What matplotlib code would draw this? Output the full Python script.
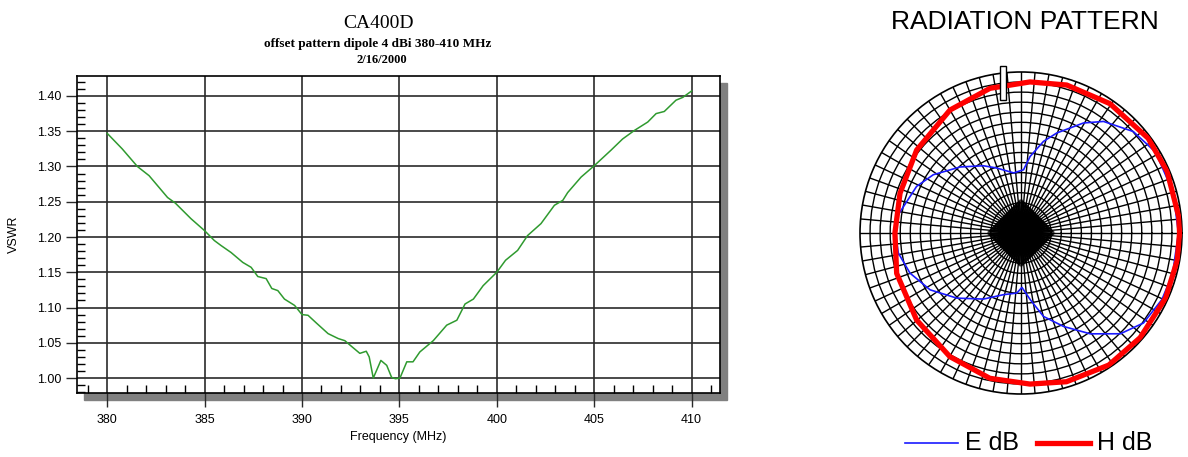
import numpy as np
import matplotlib.pyplot as plt
from matplotlib.lines import Line2D
from matplotlib.patches import Rectangle
from matplotlib.ticker import MultipleLocator

# VSWR sweep
freq = [380.0, 380.77, 381.55, 382.15, 383.1, 383.5, 384.3, 385.0, 385.5, 385.84,
        386.36, 386.96, 387.39, 387.73, 388.16, 388.45, 388.76, 389.1, 389.62, 390.0,
        390.31, 390.74, 391.34, 391.86, 392.2, 392.54, 392.97, 393.3, 393.45, 393.66,
        394.05, 394.35, 394.6, 394.8, 395.03, 395.38, 395.7, 396.05, 396.74, 397.43,
        397.95, 398.37, 398.8, 399.3, 400.0, 400.45, 401.07, 401.58, 402.27, 402.96,
        403.39, 403.64, 404.33, 405.0, 405.86, 406.46, 407.06, 407.75, 408.18, 408.6,
        409.2, 409.55, 410.0]
vswr = [1.347, 1.325, 1.300, 1.287, 1.256, 1.248, 1.226, 1.209, 1.195, 1.188,
        1.178, 1.164, 1.157, 1.144, 1.141, 1.127, 1.124, 1.112, 1.103, 1.090,
        1.089, 1.078, 1.063, 1.056, 1.053, 1.045, 1.035, 1.038, 1.030, 1.000,
        1.025, 1.018, 1.001, 0.999, 1.000, 1.023, 1.023, 1.037, 1.053, 1.075,
        1.082, 1.105, 1.112, 1.131, 1.150, 1.167, 1.181, 1.202, 1.219, 1.245,
        1.252, 1.263, 1.285, 1.301, 1.323, 1.339, 1.351, 1.363, 1.375, 1.378,
        1.394, 1.398, 1.407]

# radiation pattern (angle in degrees, normalised radius)
h_ang = [0, 5.9, 22.9, 36.7, 55.5, 72.8, 86.6, 102.1, 120, 141.5, 161.8, 180,
         198, 219.8, 240.1, 257.9, 273.4, 287, 303.6, 318.7, 335.8, 350, 360]
h_db = [0.985, 0.985, 0.985, 0.985, 0.975, 0.962, 0.94, 0.919, 0.882, 0.828, 0.791, 0.783,
        0.812, 0.844, 0.886, 0.923, 0.94, 0.966, 0.985, 0.985, 0.985, 0.985, 0.985]
e_ang = [0, 15, 31, 42.1, 53.5, 60.4, 70.3, 76.2, 83.2, 87.7, 97, 110.5, 119.3, 132.7,
         146.4, 155.9, 171.7, 180, 189.3, 199.9, 212, 225.4, 240.4, 254.2, 266, 271,
         277.9, 285.1, 294.5, 304.5, 314.6, 323.7, 334.7, 345, 360]
e_db = [0.978, 0.978, 0.975, 0.94, 0.862, 0.786, 0.66, 0.586, 0.479, 0.393, 0.376, 0.431,
        0.479, 0.558, 0.654, 0.71, 0.772, 0.78, 0.772, 0.733, 0.666, 0.568, 0.472, 0.398,
        0.374, 0.338, 0.418, 0.537, 0.638, 0.76, 0.879, 0.944, 0.968, 0.975, 0.978]

fig = plt.figure(figsize=(11.88, 4.57), dpi=100)
W, H = 1188.0, 457.0

# ---- VSWR chart ----
l, r, t, b = 77, 720, 76, 393
ax = fig.add_axes([l / W, 1 - b / H, (r - l) / W, (b - t) / H])
ax.set_zorder(2)
# drop shadow
fig.add_artist(Rectangle(((l + 7) / W, 1 - (b + 7) / H), (r - l) / W, (b - t) / H,
                         transform=fig.transFigure, color='#808080', zorder=1))

ax.plot(freq, vswr, color='#2f9a2f', lw=1.1)
ax.set_xlim(378.45, 411.46)
ax.set_ylim(0.9788, 1.4283)
ax.xaxis.set_major_locator(MultipleLocator(5))
ax.xaxis.set_minor_locator(MultipleLocator(1))
ax.yaxis.set_major_locator(MultipleLocator(0.05))
ax.yaxis.set_minor_locator(MultipleLocator(0.01))
ax.yaxis.set_major_formatter(plt.FormatStrFormatter('%.2f'))
ax.grid(True, which='major', color='#2a2a2a', lw=1.2)
ax.tick_params(which='major', direction='out', length=8, width=1, color='#2a2a2a',
               labelsize=9, labelfontfamily='Liberation Sans')
ax.tick_params(which='minor', direction='in', length=6, width=1)
ax.tick_params(axis='x', which='major', length=10, pad=5)
for s in ax.spines.values():
    s.set_linewidth(1.2)
ax.set_xlabel('Frequency (MHz)', fontsize=9, family='Liberation Sans', labelpad=4)
ax.set_ylabel('VSWR', fontsize=9, family='Liberation Sans', labelpad=12)

cx = 378 / W
fig.text(cx, 1 - 23 / H, 'CA400D', ha='center', va='center', fontsize=14,
         family='Liberation Serif')
fig.text(cx, 1 - 44 / H, 'offset pattern dipole 4 dBi 380-410 MHz', ha='center',
         va='center', fontsize=9.5, family='Liberation Serif', weight='bold')
fig.text(cx + 4 / W, 1 - 60 / H, '2/16/2000', ha='center', va='center', fontsize=9,
         family='Liberation Serif', weight='bold')

# ---- radiation pattern ----
pcx, pcy, pr = 1021, 233, 161
ax2 = fig.add_axes([(pcx - pr) / W, 1 - (pcy + pr) / H, 2 * pr / W, 2 * pr / H],
                   projection='polar')
ax2.set_ylim(0, 1)
ax2.set_thetagrids(np.arange(0, 360, 5), labels=[])
ax2.set_rgrids(np.linspace(1 / 16, 1, 16)[:-1], labels=[])
ax2.grid(True, color='black', lw=1.0)
ax2.spines['polar'].set_linewidth(1.2)
ax2.tick_params(length=0)
# dense spokes near the centre give the dark diamond of the original grid
for a in np.deg2rad(np.arange(0, 360, 1.5)):
    re = 0.21 / (abs(np.cos(a)) + abs(np.sin(a)))
    ax2.plot([a, a], [0, re], color='black', lw=0.8, zorder=2)
ax2.plot(np.deg2rad(e_ang), e_db, color='#1a1aff', lw=1.2, zorder=3)
ax2.plot(np.deg2rad(h_ang), h_db, color='#ff0000', lw=3.8, zorder=4)

# little scale box on top
fig.add_artist(Rectangle((1000 / W, 1 - 100 / H), 6 / W, 34 / H, transform=fig.transFigure,
                         facecolor='white', edgecolor='black', lw=1, zorder=5))

fig.text(1025 / W, 1 - 22 / H, 'RADIATION PATTERN', ha='center', va='center',
         fontsize=19, family='Liberation Sans')

ly = 1 - 443 / H
fig.add_artist(Line2D([905 / W, 958 / W], [ly, ly], color='#1a1aff', lw=1.2))
fig.text(965 / W, ly, 'E dB', ha='left', va='center', fontsize=18, family='Liberation Sans')
fig.add_artist(Line2D([1037 / W, 1090 / W], [ly, ly], color='#ff0000', lw=3.8))
fig.text(1097 / W, ly, 'H dB', ha='left', va='center', fontsize=18, family='Liberation Sans')

plt.savefig('out.png', dpi=100)
